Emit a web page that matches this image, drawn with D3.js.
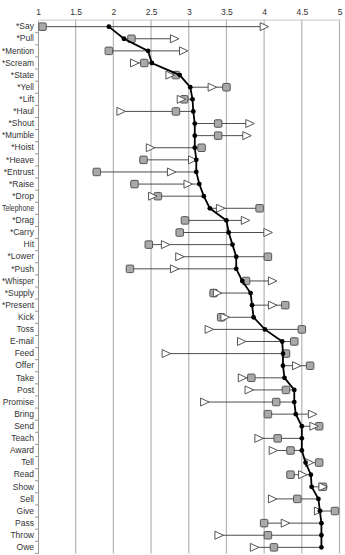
<!DOCTYPE html>
<html>
<head>
<meta charset="utf-8">
<script src="https://cdn.jsdelivr.net/npm/d3@7"></script>
<style>
  body { margin: 0; background: #fff; }
  text { font-family: "Liberation Sans", "Open Sans", sans-serif; }
</style>
</head>
<body>
<div id="chart"></div>
<script>
// verbs, top to bottom
var verbs = ["*Say", "*Pull", "*Mention", "*Scream", "*State", "*Yell", "*Lift", "*Haul", "*Shout", "*Mumble",
  "*Hoist", "*Heave", "*Entrust", "*Raise", "*Drop", "Telephone", "*Drag", "*Carry", "Hit", "*Lower",
  "*Push", "*Whisper", "*Supply", "*Present", "Kick", "Toss", "E-mail", "Feed", "Offer", "Take",
  "Post", "Promise", "Bring", "Send", "Teach", "Award", "Tell", "Read", "Show", "Sell",
  "Give", "Pass", "Throw", "Owe"];

// black dots (joined by the line)
var dots = [1.94, 2.14, 2.46, 2.51, 2.88, 3.02, 3.05, 3.06, 3.08, 3.08,
  3.08, 3.10, 3.10, 3.14, 3.20, 3.28, 3.50, 3.53, 3.58, 3.63,
  3.63, 3.71, 3.82, 3.84, 3.86, 4.01, 4.24, 4.25, 4.25, 4.27,
  4.40, 4.40, 4.42, 4.50, 4.50, 4.50, 4.55, 4.62, 4.63, 4.72,
  4.74, 4.76, 4.76, 4.76];

// grey squares
var squares = [1.06, 2.24, 1.94, 2.41, 2.83, 3.50, 2.94, 2.83, 3.39, 3.39,
  3.17, 2.40, 1.78, 2.28, 2.59, 3.94, 2.95, 2.88, 2.47, 4.05,
  2.22, 3.76, 3.33, 4.28, 3.43, 4.50, 4.40, 4.29, 4.61, 3.83,
  4.29, 4.16, 4.05, 4.73, 4.18, 4.35, 4.73, 4.35, 4.78, 4.44,
  4.94, 4.00, 4.05, 4.13];

// white triangles
var triangles = [4.00, 2.81, 2.93, 2.28, 2.75, 3.31, 2.90, 2.10, 3.81, 3.77,
  2.49, 3.05, 2.77, 2.99, 2.52, 3.42, 3.75, 4.05, 2.69, 2.88,
  2.81, 4.11, 3.38, 4.11, 3.48, 3.27, 3.70, 2.70, 4.43, 3.71,
  3.80, 3.21, 4.64, 4.66, 3.93, 4.12, 4.60, 4.51, 4.78, 4.11,
  4.72, 4.28, 3.40, 3.87];

var xTicks = [1, 1.5, 2, 2.5, 3, 3.5, 4, 4.5, 5];

var width = 345, height = 555;
var mLeft = 38, mRight = 339.5, mTop = 20.6, mBottom = 553.4;

var rows = verbs.map(function(v, i) {
  return { verb: v, dot: dots[i], sq: squares[i], tri: triangles[i] };
});

var svg = d3.select("#chart").append("svg")
  .attr("width", width)
  .attr("height", height);

var x = d3.scaleLinear().domain([1, 5]).range([mLeft, mRight]);
var y = d3.scaleBand().domain(verbs).range([mTop, mBottom]).padding(0);
var cy = function(v) { return y(v) + y.bandwidth() / 2; };

// vertical gridlines
svg.append("g").selectAll("line")
  .data(xTicks.slice(1))
  .enter().append("line")
  .attr("x1", function(d) { return x(d); })
  .attr("x2", function(d) { return x(d); })
  .attr("y1", mTop - 1)
  .attr("y2", mBottom)
  .attr("stroke", "#b5b5b5")
  .attr("stroke-width", 1.2);

// top axis
var xAxis = svg.append("g")
  .attr("transform", "translate(0," + (mTop - 1) + ")")
  .call(d3.axisTop(x).tickValues(xTicks).tickSize(0).tickPadding(5).tickFormat(d3.format("")));
xAxis.select(".domain").attr("stroke", "#c8c8c8");
xAxis.selectAll("text").attr("font-size", 8.5).attr("fill", "#333");

// left axis with ticks between categories
var yAxis = svg.append("g")
  .attr("transform", "translate(" + mLeft + ",0)")
  .call(d3.axisLeft(y).tickSize(0).tickPadding(4));
yAxis.select(".domain").attr("stroke", "#999");
yAxis.selectAll("text")
  .attr("font-size", 8.5)
  .attr("fill", "#333")
  .each(function() {
    // squeeze long labels so they fit left of the axis
    var maxW = mLeft - 6;
    if (this.getComputedTextLength() > maxW) {
      d3.select(this).attr("textLength", maxW).attr("lengthAdjust", "spacingAndGlyphs");
    }
  });
svg.append("g").selectAll("line")
  .data(verbs)
  .enter().append("line")
  .attr("x1", mLeft - 3)
  .attr("x2", mLeft)
  .attr("y1", function(d) { return y(d) + y.bandwidth(); })
  .attr("y2", function(d) { return y(d) + y.bandwidth(); })
  .attr("stroke", "#999");

// range lines through each row
svg.append("g").selectAll("line")
  .data(rows)
  .enter().append("line")
  .attr("x1", function(d) { return x(Math.min(d.dot, d.sq, d.tri)); })
  .attr("x2", function(d) { return x(Math.max(d.dot, d.sq, d.tri)); })
  .attr("y1", function(d) { return cy(d.verb); })
  .attr("y2", function(d) { return cy(d.verb); })
  .attr("stroke", "#3a3a3a")
  .attr("stroke-width", 0.9);

// squares
var s = 7.5;
svg.append("g").selectAll("rect")
  .data(rows)
  .enter().append("rect")
  .attr("x", function(d) { return x(d.sq) - s / 2; })
  .attr("y", function(d) { return cy(d.verb) - s / 2; })
  .attr("width", s)
  .attr("height", s)
  .attr("rx", 1.2)
  .attr("fill", "#a9a9a9")
  .attr("stroke", "#555")
  .attr("stroke-width", 1);

// triangles pointing right
svg.append("g").selectAll("path")
  .data(rows)
  .enter().append("path")
  .attr("d", function(d) {
    var cx = x(d.tri), c = cy(d.verb);
    return "M" + (cx - 4) + "," + (c - 4) + "L" + (cx + 4.5) + "," + c + "L" + (cx - 4) + "," + (c + 4) + "Z";
  })
  .attr("fill", "#fff")
  .attr("stroke", "#555")
  .attr("stroke-width", 1);

// black line with dots
var line = d3.line()
  .x(function(d) { return x(d.dot); })
  .y(function(d) { return cy(d.verb); });

svg.append("path")
  .datum(rows)
  .attr("d", line)
  .attr("fill", "none")
  .attr("stroke", "#000")
  .attr("stroke-width", 1.8);

svg.append("g").selectAll("circle")
  .data(rows)
  .enter().append("circle")
  .attr("cx", function(d) { return x(d.dot); })
  .attr("cy", function(d) { return cy(d.verb); })
  .attr("r", 2.4)
  .attr("fill", "#000");
</script>
</body>
</html>
